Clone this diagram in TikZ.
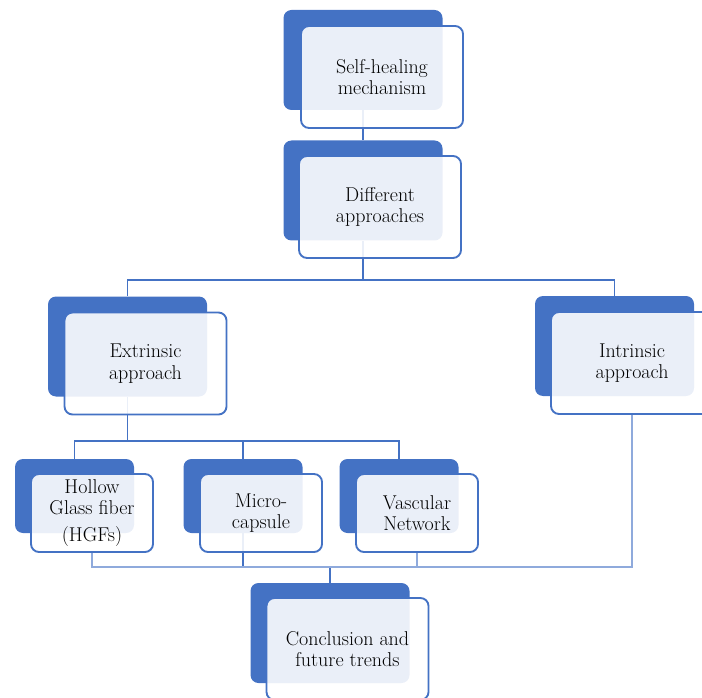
\documentclass[tikz,border=0pt]{standalone}
\usetikzlibrary{positioning}
\definecolor{boxblue}{HTML}{4472C4}
\definecolor{lineblue}{HTML}{8FAADC}

\begin{document}
\begin{tikzpicture}[x=0.75pt,y=-0.75pt,
  every node/.style={font=\fontsize{15}{16}\selectfont},
  back/.style={fill=boxblue,rounded corners=6pt,inner sep=0pt},
  front/.style={draw=boxblue,line width=1.4pt,fill=white,fill opacity=0.89,text opacity=1,
    rounded corners=6pt,inner sep=0pt,align=center},
  bigback/.style={back,minimum width=119.25pt,minimum height=75pt},
  bigfront/.style={front,minimum width=121.5pt,minimum height=76.5pt},
  smallback/.style={back,minimum width=89.25pt,minimum height=55.5pt},
  smallfront/.style={front,minimum width=91.5pt,minimum height=58.5pt},
  link/.style={draw=boxblue,line width=1.3pt},
  thinlink/.style={draw=lineblue,line width=0.8pt}]
\useasboundingbox (0,0) rectangle (702,698);
% back boxes
\node[bigback] (shb) at (363,60) {};
\node[bigback] (dab) at (363,190.5) {};
\node[bigback] (exb) at (127.5,346.5) {};
\node[bigback] (inb) at (614.5,346) {};
\node[smallback] (hgb) at (74.5,496) {};
\node[smallback] (mcb) at (243,496) {};
\node[smallback] (vnb) at (399,496) {};
\node[bigback] (cob) at (330,633) {};
% connectors
\coordinate (fk1) at (363,280);
\coordinate (fk2) at (127.5,441);
\coordinate (bus) at (330,567);
\draw[link] (shb.south) -- (dab.north);
\draw[link] (dab.south) -- (fk1);
\draw[link] (exb.north) |- (fk1) -| (inb.north);
\draw[link] (exb.south) -- (fk2);
\draw[link] (hgb.north) |- (fk2) -| (vnb.north);
\draw[link] (mcb.north) -- (mcb.north |- fk2);
\draw[link] (mcb.south) |- (bus) -- (cob.north);
% front boxes
\node[bigfront] (shf) at (382,77) {Self-healing\\mechanism};
\node[bigfront] (daf) at (380,207) {Different\\approaches};
\node[bigfront] (exf) at (145.5,363.5) {Extrinsic\\approach};
\node[bigfront] (inf) at (632,363) {Intrinsic\\approach};
\node[smallfront] (hgf) at (92,513) {Hollow\\Glass fiber\\[4pt](HGFs)};
\node[smallfront] (mcf) at (261,513) {Micro-\\capsule};
\node[smallfront] (vnf) at (417,513) {Vascular\\Network};
\node[bigfront] (cof) at (347.5,649) {Conclusion and\\future trends};
% lower bus
\draw[thinlink] (hgf.south) |- (bus) -| (inf.south);
\draw[thinlink] (vnf.south) -- (vnf.south |- bus);
\end{tikzpicture}
\end{document}
